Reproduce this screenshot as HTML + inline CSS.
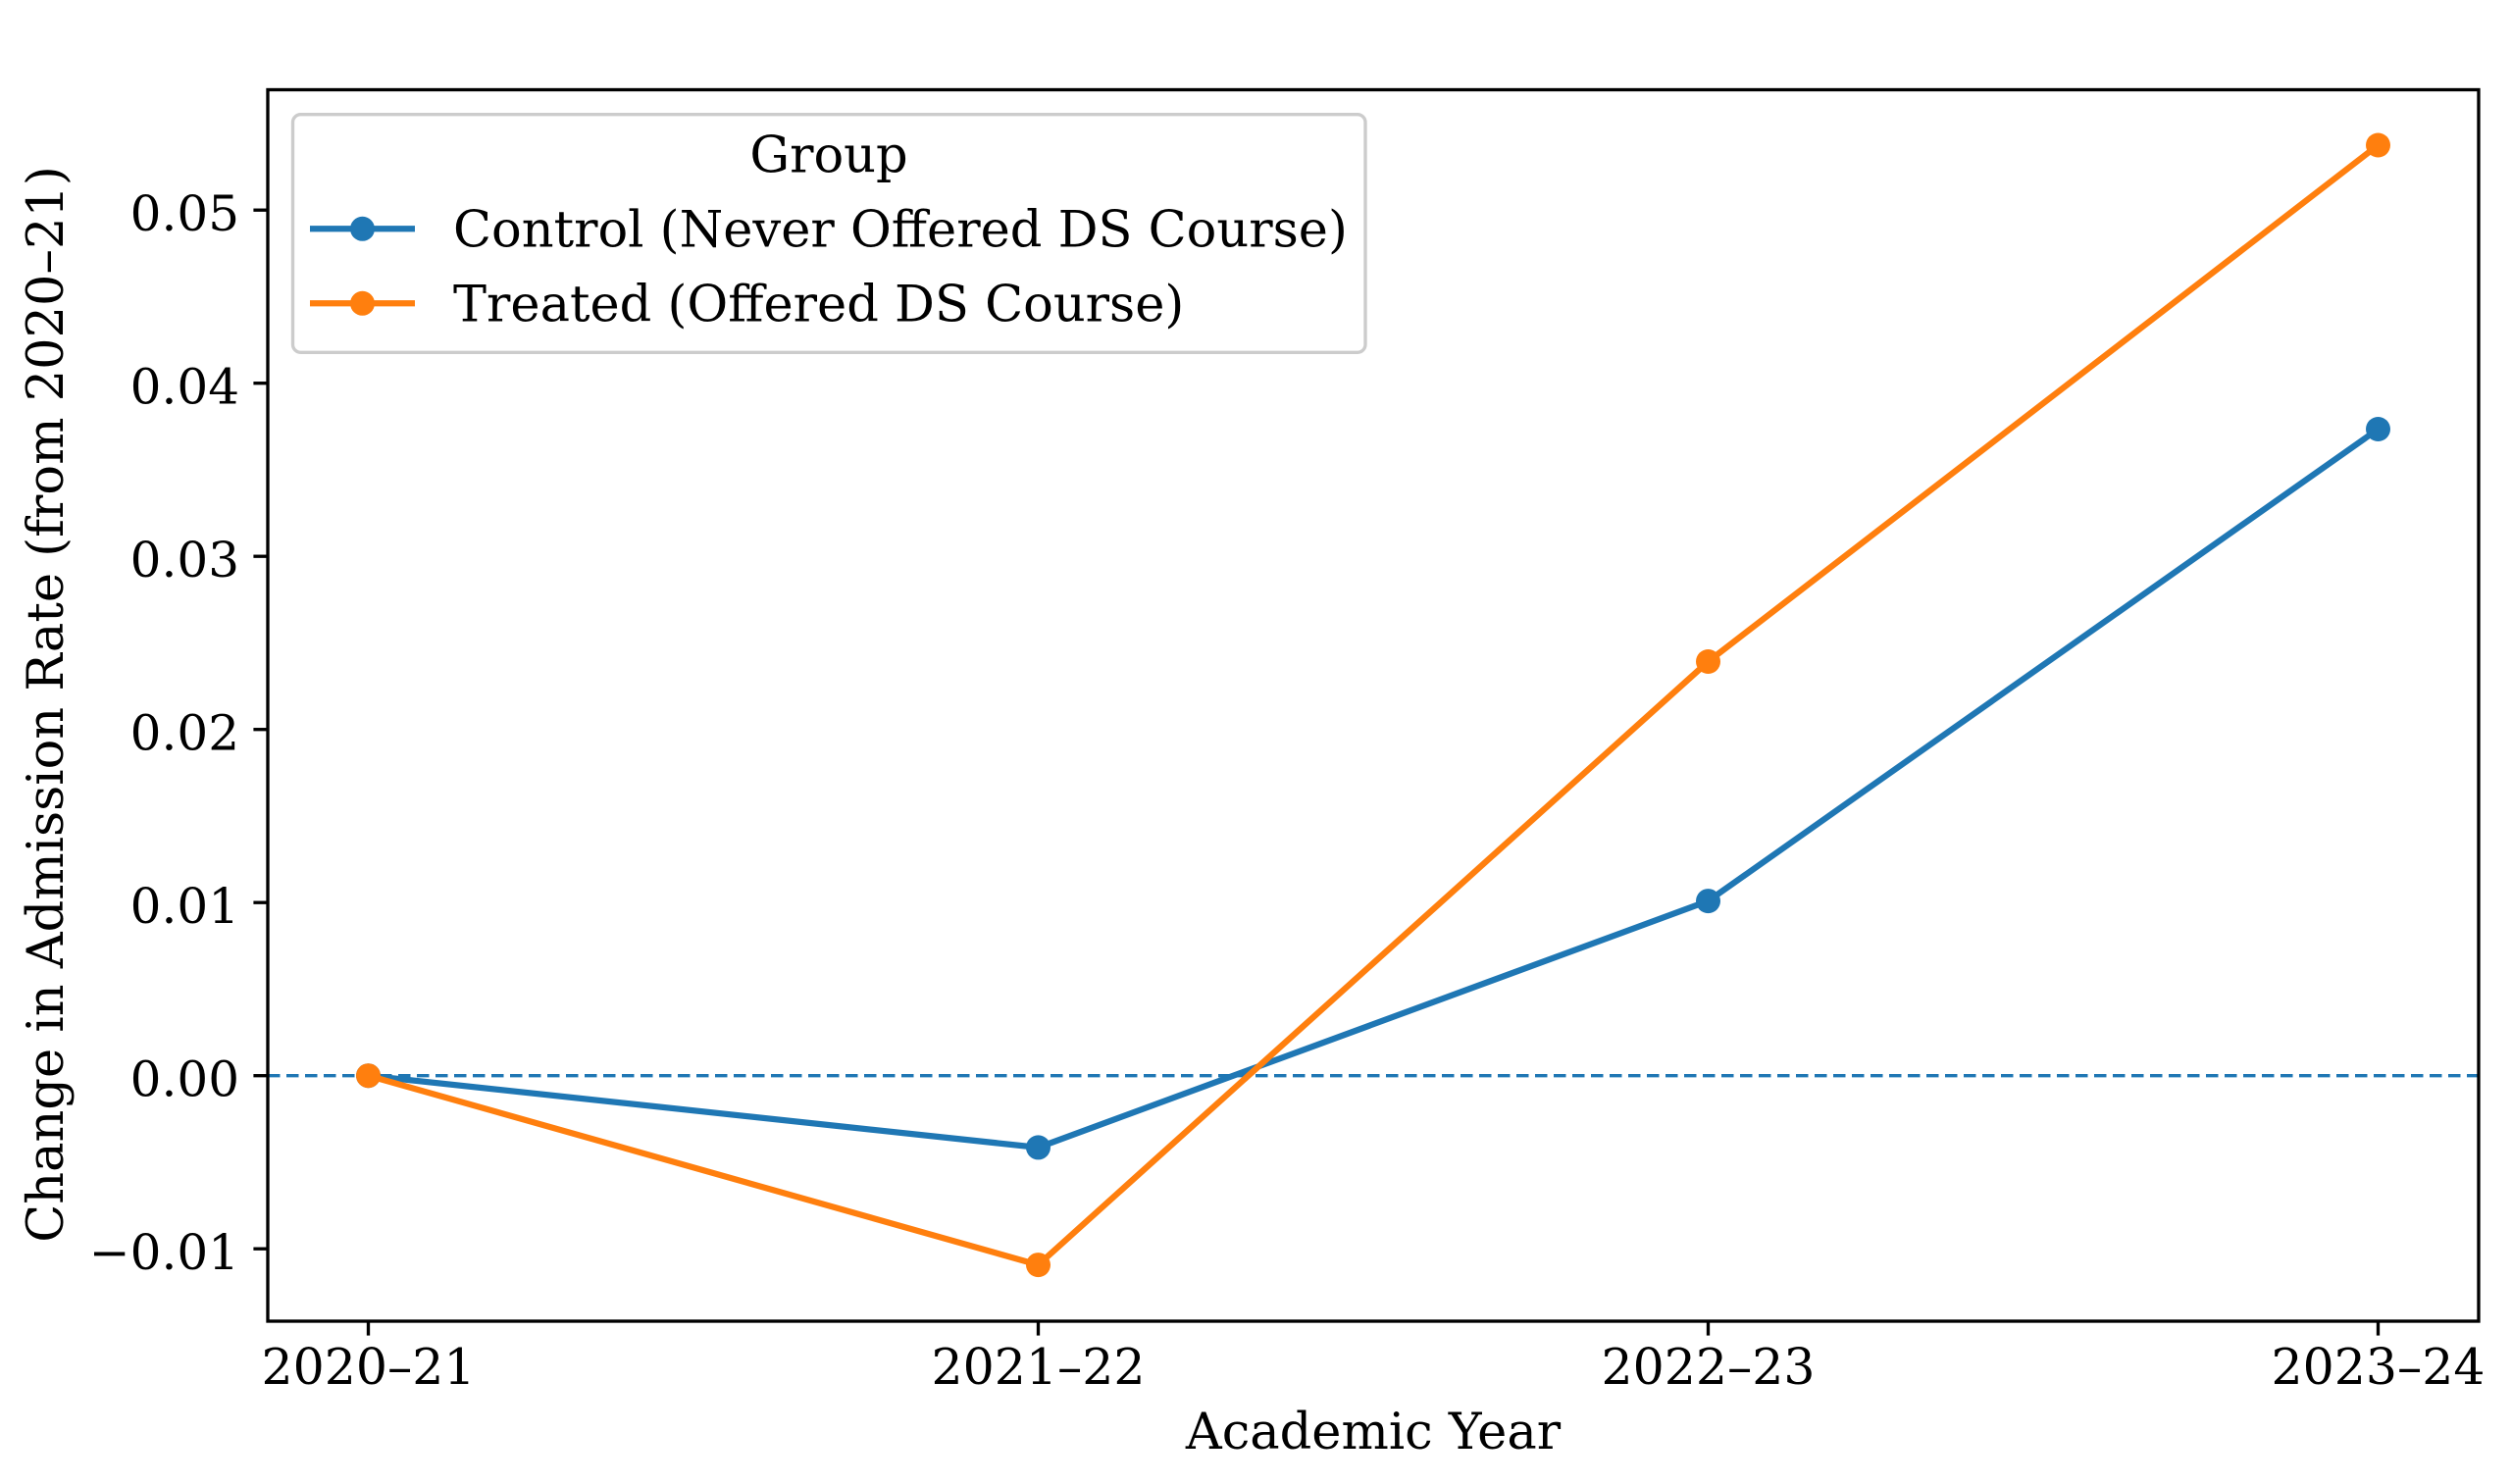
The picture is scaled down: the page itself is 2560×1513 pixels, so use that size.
<!DOCTYPE html>
<html>
<head>
<meta charset="utf-8">
<style>
  html, body { margin: 0; padding: 0; background: #ffffff; }
  svg { display: block; }
  text { font-family: "DejaVu Serif", "Liberation Serif", serif; fill: #000; }
</style>
</head>
<body>
<svg xmlns="http://www.w3.org/2000/svg" width="2560" height="1513" viewBox="0 0 2560 1513">
  <rect x="0" y="0" width="2560" height="1513" fill="#ffffff"/>

  <!-- zero dashed line -->
  <line x1="273" y1="1096.7" x2="2527" y2="1096.7" stroke="#1f77b4" stroke-width="3.33" stroke-dasharray="12.5 6.5"/>

  <!-- Control series -->
  <polyline points="375.5,1096.7 1058.5,1169.9 1741.5,918.6 2424.5,437.5" fill="none" stroke="#1f77b4" stroke-width="6.25" stroke-linejoin="round" stroke-linecap="square"/>
  <g fill="#1f77b4">
    <circle cx="375.5" cy="1096.7" r="12.5"/>
    <circle cx="1058.5" cy="1169.9" r="12.5"/>
    <circle cx="1741.5" cy="918.6" r="12.5"/>
    <circle cx="2424.5" cy="437.5" r="12.5"/>
  </g>

  <!-- Treated series -->
  <polyline points="375.5,1096.7 1058.5,1289.6 1741.5,674.5 2424.5,148.0" fill="none" stroke="#ff7f0e" stroke-width="6.25" stroke-linejoin="round" stroke-linecap="square"/>
  <g fill="#ff7f0e">
    <circle cx="375.5" cy="1096.7" r="12.5"/>
    <circle cx="1058.5" cy="1289.6" r="12.5"/>
    <circle cx="1741.5" cy="674.5" r="12.5"/>
    <circle cx="2424.5" cy="148.0" r="12.5"/>
  </g>

  <!-- axes spines -->
  <rect x="273" y="91.5" width="2254" height="1255.5" fill="none" stroke="#000" stroke-width="3.33"/>

  <!-- y ticks -->
  <g stroke="#000" stroke-width="3.33">
    <line x1="258.4" y1="1273.2" x2="273" y2="1273.2"/>
    <line x1="258.4" y1="1096.7" x2="273" y2="1096.7"/>
    <line x1="258.4" y1="920.2" x2="273" y2="920.2"/>
    <line x1="258.4" y1="743.7" x2="273" y2="743.7"/>
    <line x1="258.4" y1="567.2" x2="273" y2="567.2"/>
    <line x1="258.4" y1="390.7" x2="273" y2="390.7"/>
    <line x1="258.4" y1="214.2" x2="273" y2="214.2"/>
  </g>
  <g font-size="50" text-anchor="end">
    <text x="244" y="1294.2">−0.01</text>
    <text x="244" y="1117.7">0.00</text>
    <text x="244" y="941.2">0.01</text>
    <text x="244" y="764.7">0.02</text>
    <text x="244" y="588.2">0.03</text>
    <text x="244" y="411.7">0.04</text>
    <text x="244" y="235.2">0.05</text>
  </g>

  <!-- x ticks -->
  <g stroke="#000" stroke-width="3.33">
    <line x1="375.5" y1="1347" x2="375.5" y2="1361.6"/>
    <line x1="1058.5" y1="1347" x2="1058.5" y2="1361.6"/>
    <line x1="1741.5" y1="1347" x2="1741.5" y2="1361.6"/>
    <line x1="2424.5" y1="1347" x2="2424.5" y2="1361.6"/>
  </g>
  <g font-size="50.5" text-anchor="middle">
    <text x="375.5" y="1411">2020–21</text>
    <text x="1058.5" y="1411">2021–22</text>
    <text x="1741.5" y="1411">2022–23</text>
    <text x="2424.5" y="1411">2023–24</text>
  </g>

  <!-- axis labels -->
  <text x="1400" y="1477" font-size="51" text-anchor="middle">Academic Year</text>
  <text transform="translate(64,718) rotate(-90)" font-size="51" text-anchor="middle">Change in Admission Rate (from 2020–21)</text>

  <!-- legend -->
  <rect x="298.5" y="116.7" width="1093.5" height="242.6" rx="8" ry="8" fill="#ffffff" fill-opacity="0.8" stroke="#cccccc" stroke-width="3.33"/>
  <text x="845" y="175.5" font-size="51" text-anchor="middle">Group</text>
  <line x1="316" y1="233.3" x2="423" y2="233.3" stroke="#1f77b4" stroke-width="6.25"/>
  <circle cx="369.5" cy="233.3" r="12.5" fill="#1f77b4"/>
  <text x="462" y="251.5" font-size="51">Control (Never Offered DS Course)</text>
  <line x1="316" y1="309.3" x2="423" y2="309.3" stroke="#ff7f0e" stroke-width="6.25"/>
  <circle cx="369.5" cy="309.3" r="12.5" fill="#ff7f0e"/>
  <text x="462" y="327.5" font-size="51">Treated (Offered DS Course)</text>
</svg>
</body>
</html>
